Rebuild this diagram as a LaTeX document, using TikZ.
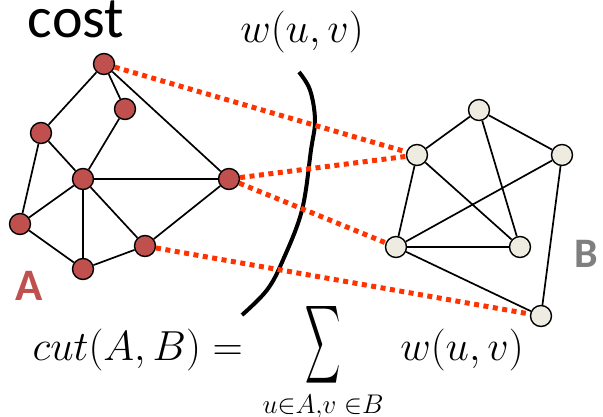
\RequirePackage{fix-cm}
\documentclass[tikz,border=0pt]{standalone}
\usepackage{exscale}
\usepackage{fontspec}
\usepackage{graphicx}
\newfontfamily\carlito{Carlito}
\definecolor{nodeA}{HTML}{C0504D}
\definecolor{nodeB}{HTML}{EEECE1}
\definecolor{cutred}{HTML}{FF3300}
\definecolor{labB}{HTML}{7F7F7F}

\begin{document}
\begin{tikzpicture}[
		x=1pt, y=-1pt,
		an/.style  = {circle, draw=black, line width=1.4pt, fill=nodeA, minimum size=21pt, inner sep=0pt},
		bn/.style  = {an, fill=nodeB},
		ed/.style  = {line width=1.7pt},
		ct/.style  = {draw=cutred, line width=5pt, dash pattern=on 5pt off 4.5pt},
		lbl/.style = {anchor=base, inner sep=0pt},
		mth/.style = {lbl, font=\fontsize{42}{48}\selectfont}
		]
		\useasboundingbox (0,0) rectangle (603,416);
		
		% the cut
		\draw[line width=4pt] plot[smooth, tension=0.6] coordinates {(299,72) (310,90) (315,120) (311,150) (302,210) (283,260) (267,290) (242,315)};
		
		% Graph A
		\node[an] (a1) at (104, 64) {};
		\node[an] (a2) at (125,109) {};
		\node[an] (a3) at ( 41,133) {};
		\node[an] (a4) at ( 83,179) {};
		\node[an] (a5) at (229,179) {};
		\node[an] (a6) at ( 20,224) {};
		\node[an] (a7) at (145,246) {};
		\node[an] (a8) at ( 83,269) {};
		
		\draw[ed] (a1)--(a3) (a1)--(a2) (a1)--(a5) (a2)--(a4) (a3)--(a4) (a3)--(a6);
		\draw[ed] (a4)--(a5) (a4)--(a6) (a4)--(a8) (a4)--(a7);
		\draw[ed] (a6)--(a8)--(a7)--(a5);
		
		% Graph B
		\node[bn] (b1) at (479,110) {};
		\node[bn] (b2) at (417,155) {};
		\node[bn] (b3) at (562,155) {};
		\node[bn] (b4) at (396,247) {};
		\node[bn] (b5) at (520,247) {};
		\node[bn] (b6) at (541,316) {};
		
		\draw[ed] (b2)--(b1)--(b3) (b1)--(b5) (b2)--(b4) (b2)--(b5);
		\draw[ed] (b3)--(b4) (b3)--(b6) (b4)--(b5) (b4)--(b6);
		
		% Cut edges
		\draw[ct] (a1)--(b2);
		\draw[ct] (a5)--(b2);
		\draw[ct] (a5)--(b4);
		\draw[ct] (a7)--(b6);
		
		% Labels
		\node[lbl, font=\carlito\fontsize{58}{60}\selectfont] (cost) at (76,37) {cost};
		\node[lbl, text=nodeA, font=\carlito\bfseries\fontsize{45}{48}\selectfont] (lblA) at (29,300) {A};
		\node[lbl, anchor=base west, text=labB, font=\carlito\bfseries\fontsize{42}{44}\selectfont] (lblB) at (574,267) {B};
		\node[mth] (wtop) at (302,42) {$w(u,v)$};
		
		% Formula
		\node[mth, anchor=base east] (lhs) at (243,360) {$cut(A,B) =$};
		\node[inner sep=0pt, font=\fontsize{40}{48}\selectfont] (sum) at (323,345) {\scalebox{0.98}[2.2]{$\displaystyle\sum$}};
		\node[lbl, font=\fontsize{27}{30}\selectfont] (sub) at (323,413) {$u{\in}A{,}v\;{\in}B$};
		\node[mth] (wbot) at (462,360) {$w(u,v)$};
	\end{tikzpicture}
\end{document}
